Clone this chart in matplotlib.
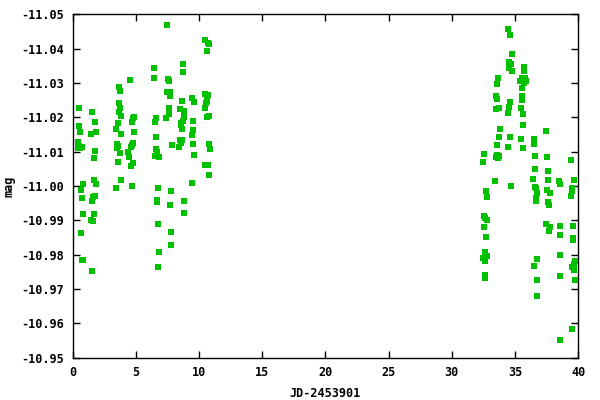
#!/usr/bin/env python3
# light curve, mag vs JD-2453901, gnuplot look (inverted y, inward ticks)

import matplotlib
matplotlib.use("Agg")
import matplotlib.pyplot as plt
from matplotlib.ticker import FormatStrFormatter

# first run, nights 0..11
jd_a = [0.54, 0.54, 0.62, 0.46, 0.52, 0.44, 0.75, 0.59, 0.85, 0.70,
        0.78, 0.85, 0.70, 0.78, 0.85, 1.57, 1.81, 1.49, 1.89, 1.81,
        1.73, 1.73, 1.89, 1.81, 1.65, 1.57, 1.73, 1.49, 1.65, 1.57,
        3.71, 3.79, 3.71, 3.79, 3.71, 3.86, 3.63, 3.47, 3.86, 3.55,
        3.63, 3.55, 3.79, 3.63, 3.86, 3.47,
        4.57, 4.73, 4.81, 4.89, 4.89, 4.81, 4.73, 4.65, 4.41, 4.49,
        4.81, 4.65, 4.73,
        7.50, 6.47, 6.47, 7.58, 7.66, 8.77, 8.77, 10.51, 10.75, 10.83,
        10.67, 7.50, 7.74, 7.74, 8.69, 9.48, 9.64, 10.51, 10.75, 10.67,
        10.67, 10.59, 10.51, 7.66, 8.53, 8.85, 7.66, 8.85, 8.77, 8.60,
        8.60, 8.69, 6.63, 6.55, 7.42, 10.67, 10.83, 9.56, 9.56, 9.48,
        6.63, 8.53, 8.69, 8.60, 8.45, 7.90, 9.56, 6.63, 6.71, 6.55,
        6.86, 10.83, 10.91, 9.64, 10.51, 10.75, 10.83, 9.48, 6.78, 7.82,
        6.71, 6.71, 7.74, 8.85, 8.85, 6.78, 7.82, 7.82, 6.86, 6.78]
mag_a = [-11.0228, -11.0175, -11.0158, -11.0129, -11.0115, -11.0110, -11.0112, -11.0110, -11.0006, -10.9989,
         -10.9966, -10.9919, -10.9864, -10.9784, -10.9785, -11.0216, -11.0187, -11.0152, -11.0158, -11.0103,
         -11.0082, -11.0018, -11.0006, -10.9971, -10.9969, -10.9957, -10.9919, -10.9901, -10.9899, -10.9753,
         -11.0289, -11.0275, -11.0240, -11.0228, -11.0216, -11.0205, -11.0184, -11.0167, -11.0152, -11.0123,
         -11.0117, -11.0111, -11.0097, -11.0071, -11.0018, -10.9995,
         -11.0308, -11.0187, -11.0199, -11.0202, -11.0158, -11.0126, -11.0120, -11.0114, -11.0100, -11.0085,
         -11.0068, -11.0059, -11.0001,
         -11.0470, -11.0342, -11.0313, -11.0310, -11.0306, -11.0356, -11.0333, -11.0426, -11.0417, -11.0413,
         -11.0394, -11.0272, -11.0272, -11.0263, -11.0248, -11.0257, -11.0245, -11.0269, -11.0266, -11.0257,
         -11.0248, -11.0240, -11.0228, -11.0228, -11.0225, -11.0219, -11.0208, -11.0202, -11.0190, -11.0184,
         -11.0176, -11.0167, -11.0199, -11.0187, -11.0199, -11.0202, -11.0205, -11.0190, -11.0164, -11.0149,
         -11.0143, -11.0135, -11.0135, -11.0126, -11.0114, -11.0120, -11.0123, -11.0108, -11.0100, -11.0088,
         -11.0085, -11.0123, -11.0106, -11.0091, -11.0062, -11.0062, -11.0033, -11.0009, -10.9995, -10.9986,
         -10.9960, -10.9954, -10.9945, -10.9957, -10.9922, -10.9890, -10.9867, -10.9829, -10.9808, -10.9764]

# second run, nights 32..40
jd_b = [34.48, 34.64, 34.80, 34.56, 34.72, 34.56, 34.80, 35.75, 35.75,
        33.70, 33.62, 35.55, 35.81, 35.44, 35.86, 35.73, 35.59, 33.54, 33.62,
        35.59, 35.59, 34.64, 34.56, 33.77, 33.54, 35.52, 34.48, 35.67, 35.67,
        33.85, 33.77, 34.64, 35.52, 33.62, 34.48, 35.67, 32.58, 33.62, 33.77,
        33.54, 33.70, 32.51, 33.46, 34.72, 32.74, 32.82, 32.58, 32.66, 32.82,
        32.58, 32.74, 32.66, 32.51, 32.82, 32.66, 32.66, 32.66,
        37.49, 36.54, 36.54, 36.62, 37.57, 39.47, 36.62, 37.65, 36.46, 37.65,
        38.45, 38.53, 39.71, 36.62, 36.70, 36.78, 37.57, 37.81, 39.55, 39.55,
        39.47, 36.70, 36.70, 37.65, 37.73, 37.49, 37.81, 37.73, 38.60, 38.53,
        39.63, 39.63, 39.63, 38.53, 36.78, 36.54, 39.79, 39.71, 39.55, 39.71,
        38.60, 36.78, 39.79, 36.78, 39.55, 38.60]
mag_b = [-11.0458, -11.0438, -11.0383, -11.0362, -11.0356, -11.0342, -11.0336, -11.0345, -11.0336,
         -11.0315, -11.0298, -11.0315, -11.0315, -11.0306, -11.0306, -11.0300, -11.0286, -11.0263, -11.0254,
         -11.0261, -11.0251, -11.0245, -11.0231, -11.0228, -11.0225, -11.0228, -11.0213, -11.0208, -11.0176,
         -11.0167, -11.0143, -11.0141, -11.0138, -11.0120, -11.0114, -11.0111, -11.0094, -11.0091, -11.0088,
         -11.0085, -11.0082, -11.0071, -11.0015, -11.0001, -10.9986, -10.9969, -10.9913, -10.9907, -10.9901,
         -10.9881, -10.9852, -10.9808, -10.9791, -10.9797, -10.9782, -10.9741, -10.9732,
         -11.0161, -11.0138, -11.0123, -11.0088, -11.0085, -11.0076, -11.0050, -11.0044, -11.0021, -11.0018,
         -11.0015, -11.0006, -11.0018, -10.9998, -10.9995, -10.9980, -10.9989, -10.9980, -10.9995, -10.9986,
         -10.9971, -10.9966, -10.9957, -10.9952, -10.9945, -10.9890, -10.9881, -10.9870, -10.9884, -10.9858,
         -10.9884, -10.9849, -10.9843, -10.9799, -10.9788, -10.9767, -10.9782, -10.9773, -10.9764, -10.9756,
         -10.9738, -10.9727, -10.9727, -10.9680, -10.9584, -10.9552]

x_ticks = [0, 5, 10, 15, 20, 25, 30, 35, 40]
y_ticks = [-11.05, -11.04, -11.03, -11.02, -11.01, -11.00, -10.99, -10.98, -10.97, -10.96, -10.95]

FONT = dict(family="DejaVu Sans Mono", fontweight="bold", fontsize=8.5)

fig = plt.figure(figsize=(6, 4), dpi=100)
ax = fig.add_axes([0.121, 0.106, 0.8425, 0.8585])

ax.scatter(jd_a + jd_b, mag_a + mag_b, marker="s", s=14, color="#00c000",
           linewidths=0, zorder=3)

ax.set_xlim(0, 40)
ax.set_ylim(-10.95, -11.05)
ax.set_xticks(x_ticks)
ax.set_yticks(y_ticks)
ax.yaxis.set_major_formatter(FormatStrFormatter("%.2f"))
ax.tick_params(direction="in", length=5, width=1, top=True, right=True,
               pad=6, colors="black")
for lbl in ax.get_xticklabels() + ax.get_yticklabels():
    lbl.set_family(FONT["family"])
    lbl.set_fontweight("bold")
    lbl.set_fontsize(FONT["fontsize"])
for s in ax.spines.values():
    s.set_linewidth(1)

ax.set_xlabel("JD-2453901", labelpad=6, **FONT)
ax.set_ylabel("mag", labelpad=4, **FONT)

fig.savefig("out.png", dpi=100)
